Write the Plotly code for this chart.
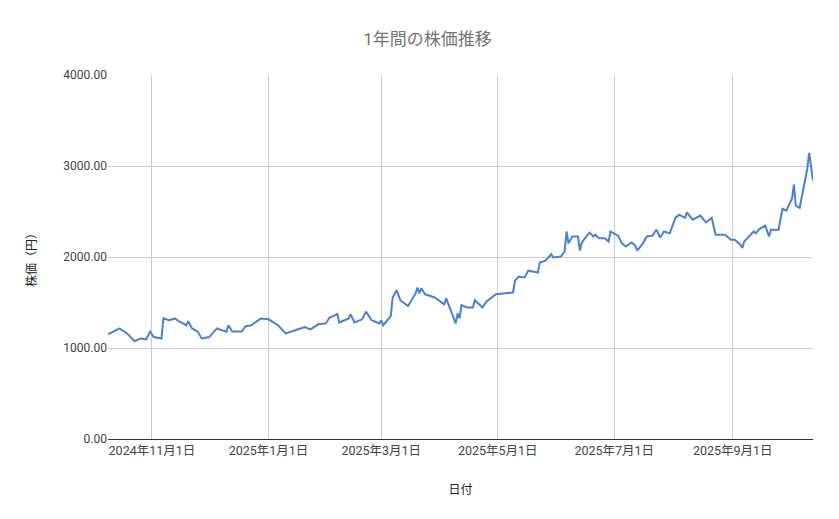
import plotly.graph_objects as go

dates = ['2024-10-09', '2024-10-15', '2024-10-19', '2024-10-23', '2024-10-26', '2024-10-29', '2024-10-31',
         '2024-11-02', '2024-11-06', '2024-11-07', '2024-11-10', '2024-11-13', '2024-11-15', '2024-11-19',
         '2024-11-20', '2024-11-22', '2024-11-25', '2024-11-27', '2024-12-01', '2024-12-05', '2024-12-10',
         '2024-12-11', '2024-12-13', '2024-12-18', '2024-12-20', '2024-12-23', '2024-12-28', '2025-01-01',
         '2025-01-06', '2025-01-10', '2025-01-15', '2025-01-20', '2025-01-23', '2025-01-27', '2025-01-31',
         '2025-02-02', '2025-02-05', '2025-02-06', '2025-02-07', '2025-02-12', '2025-02-13', '2025-02-15',
         '2025-02-19', '2025-02-21', '2025-02-24', '2025-02-28', '2025-03-01', '2025-03-02', '2025-03-06',
         '2025-03-07', '2025-03-09', '2025-03-11', '2025-03-15', '2025-03-19', '2025-03-20', '2025-03-21',
         '2025-03-22', '2025-03-24', '2025-03-29', '2025-04-03', '2025-04-04', '2025-04-07', '2025-04-09',
         '2025-04-10', '2025-04-11', '2025-04-12', '2025-04-15', '2025-04-18', '2025-04-19', '2025-04-23',
         '2025-04-25', '2025-04-30', '2025-05-05', '2025-05-09', '2025-05-10', '2025-05-12', '2025-05-15',
         '2025-05-17', '2025-05-22', '2025-05-23', '2025-05-26', '2025-05-29', '2025-05-30', '2025-06-03',
         '2025-06-05', '2025-06-06', '2025-06-07', '2025-06-09', '2025-06-12', '2025-06-13', '2025-06-14',
         '2025-06-18', '2025-06-20', '2025-06-21', '2025-06-23', '2025-06-26', '2025-06-28', '2025-06-29',
         '2025-07-03', '2025-07-05', '2025-07-07', '2025-07-10', '2025-07-12', '2025-07-13', '2025-07-16',
         '2025-07-18', '2025-07-21', '2025-07-23', '2025-07-25', '2025-07-27', '2025-07-30', '2025-08-02',
         '2025-08-04', '2025-08-07', '2025-08-08', '2025-08-11', '2025-08-15', '2025-08-18', '2025-08-21',
         '2025-08-23', '2025-08-28', '2025-08-31', '2025-09-02', '2025-09-05', '2025-09-06', '2025-09-07',
         '2025-09-09', '2025-09-12', '2025-09-13', '2025-09-15', '2025-09-18', '2025-09-20', '2025-09-21',
         '2025-09-25', '2025-09-27', '2025-09-29', '2025-10-02', '2025-10-03', '2025-10-04', '2025-10-06',
         '2025-10-09', '2025-10-10', '2025-10-11', '2025-10-13']
prices = [1150, 1215, 1160, 1075, 1105, 1095, 1180,
          1120, 1105, 1325, 1305, 1325, 1295, 1250,
          1295, 1215, 1180, 1105, 1120, 1215, 1180,
          1250, 1180, 1180, 1240, 1250, 1325, 1315,
          1250, 1160, 1195, 1230, 1205, 1260, 1270,
          1335, 1360, 1380, 1280, 1325, 1370, 1280,
          1315, 1400, 1305, 1270, 1305, 1250, 1350,
          1555, 1635, 1525, 1460, 1600, 1665, 1600,
          1655, 1590, 1555, 1480, 1545, 1390, 1270,
          1380, 1325, 1470, 1445, 1445, 1525, 1445,
          1510, 1590, 1600, 1610, 1740, 1785, 1775,
          1850, 1830, 1940, 1960, 2030, 1995, 2005,
          2060, 2280, 2150, 2225, 2225, 2070, 2160,
          2270, 2225, 2245, 2205, 2205, 2170, 2280,
          2235, 2150, 2115, 2160, 2125, 2070, 2150,
          2225, 2235, 2300, 2215, 2280, 2260, 2430,
          2465, 2430, 2490, 2410, 2455, 2380, 2430,
          2245, 2245, 2190, 2190, 2135, 2100, 2170,
          2215, 2280, 2260, 2310, 2345, 2225, 2300,
          2300, 2530, 2510, 2640, 2795, 2565, 2540,
          2860, 2970, 3145, 2840]

fig = go.Figure()
fig.add_trace(go.Scatter(x=dates, y=prices, mode='lines',
                         line=dict(color='#4a80d6', width=2), showlegend=False))

fig.update_layout(
    width=839, height=519,
    paper_bgcolor='white', plot_bgcolor='white',
    font=dict(family='Roboto, Noto Sans CJK JP', color='#333333', size=12),
    title=dict(text='1年間の株価推移', x=0.5, xanchor='center', y=0.94, yanchor='middle',
               font=dict(size=17, color='#757575')),
    margin=dict(l=100, r=34, t=67, b=88),
)
fig.update_xaxes(range=['2024-10-09', '2025-10-13'], tickformat='%Y年%-m月%-d日',
                 dtick='M2', tick0='2024-11-01', showgrid=True, gridcolor='#cccccc',
                 showline=True, linecolor='#333333', ticks='', tickfont=dict(color='#444444', size=12.5),
                 title=dict(text='日付', font=dict(size=12, color='#222222'), standoff=28))
fig.update_yaxes(range=[0, 4000], dtick=1000, tickformat='.2f', showgrid=True,
                 gridcolor='#cccccc', zeroline=False, ticks='', tickfont=dict(color='#444444'),
                 title=dict(text='株価（円）', font=dict(size=12, color='#222222'), standoff=24))

fig.write_html('out.html')
